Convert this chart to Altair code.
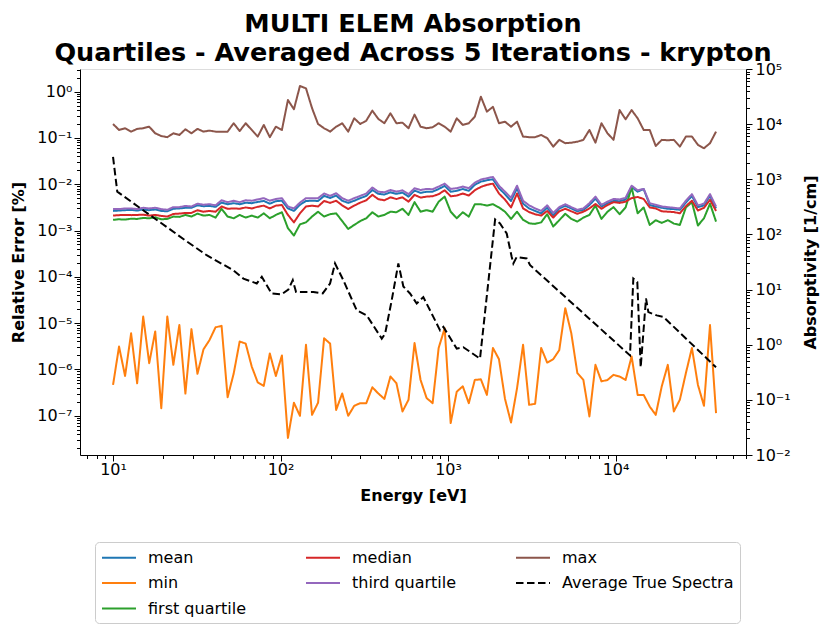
import altair as alt
import pandas as pd

# ---------------- data ----------------
energy = [10.0, 10.86, 11.80, 12.82, 13.93, 15.14, 16.44, 17.86, 19.41, 21.09,
          22.91, 24.89, 27.04, 29.38, 31.92, 34.67, 37.67, 40.93, 44.46, 48.31,
          52.48, 57.02, 61.94, 67.30, 73.11, 79.43, 86.30, 93.76, 101.9, 110.7,
          120.2, 130.6, 141.9, 154.2, 167.5, 182.0, 197.7, 214.8, 233.4, 253.5,
          275.4, 299.2, 325.1, 353.2, 383.7, 416.9, 452.9, 492.0, 534.6, 580.8,
          631.0, 685.5, 744.7, 809.1, 879.0, 955.0, 1037, 1127, 1225, 1330,
          1445, 1570, 1706, 1854, 2014, 2188, 2377, 2582, 2805, 3048,
          3311, 3597, 3908, 4246, 4613, 5012, 5445, 5916, 6427, 6982,
          7586, 8241, 8954, 9727, 10568, 11482, 12474, 13552, 14723, 15996,
          17378, 18880, 20512, 22284, 24210, 26303, 28576, 31046, 33729, 36644,
          39811]

mean_err = [2.65e-3, 2.7e-3, 2.75e-3, 2.8e-3, 2.7e-3, 2.85e-3, 2.75e-3, 2.85e-3, 2.65e-3, 2.6e-3,
            2.95e-3, 3.0e-3, 3.1e-3, 3.1e-3, 3.5e-3, 3.35e-3, 3.4e-3, 3.25e-3, 4.0e-3, 3.7e-3,
            3.9e-3, 3.7e-3, 4.0e-3, 3.9e-3, 4.15e-3, 4.35e-3, 3.8e-3, 4.3e-3, 4.4e-3, 3.0e-3,
            2.65e-3, 3.6e-3, 4.35e-3, 4.4e-3, 4.35e-3, 5.6e-3, 5.05e-3, 5.7e-3, 4.4e-3, 3.95e-3,
            4.4e-3, 5.0e-3, 5.6e-3, 7.5e-3, 6.2e-3, 6.0e-3, 6.7e-3, 6.2e-3, 6.6e-3, 5.4e-3,
            7.3e-3, 6.5e-3, 6.9e-3, 6.9e-3, 7.9e-3, 9.2e-3, 6.9e-3, 7.2e-3, 7.9e-3, 7.2e-3,
            9.7e-3, 1.14e-2, 1.22e-2, 1.28e-2, 8.2e-3, 6.1e-3, 4.35e-3, 8.2e-3, 3.8e-3, 3.0e-3,
            2.65e-3, 2.35e-3, 3.1e-3, 2.1e-3, 3.0e-3, 3.4e-3, 3.0e-3, 2.6e-3, 2.8e-3, 3.55e-3,
            4.9e-3, 3.3e-3, 3.9e-3, 4.35e-3, 4.3e-3, 4.65e-3, 8.75e-3, 6.9e-3, 7.9e-3, 3.55e-3,
            3.3e-3, 3.1e-3, 2.95e-3, 2.9e-3, 2.8e-3, 4.0e-3, 5.6e-3, 3.2e-3, 3.5e-3, 5.6e-3,
            3.0e-3]

min_err = [4.6e-7, 3.1e-6, 7.2e-7, 6.0e-6, 5.0e-7, 1.38e-5, 1.36e-6, 6.6e-6, 1.45e-7, 1.38e-5,
           1.25e-6, 9.1e-6, 3.0e-7, 7.4e-6, 8.0e-7, 2.7e-6, 4.3e-6, 8.1e-6, 8.7e-6, 2.5e-7,
           8.0e-7, 4.0e-6, 3.6e-6, 1.15e-6, 5.2e-7, 4.4e-7, 2.2e-6, 7.2e-7, 2.0e-6, 3.3e-8,
           1.9e-7, 9.9e-8, 3.4e-6, 1.04e-7, 1.9e-7, 4.7e-6, 3.6e-6, 1.33e-7, 3.0e-7, 9.9e-8,
           1.63e-7, 1.86e-7, 1.86e-7, 4.1e-7, 3.0e-7, 2.3e-7, 7.0e-7, 5.0e-7, 1.23e-7, 2.2e-7,
           3.7e-6, 5.9e-7, 2.4e-7, 1.86e-7, 2.9e-6, 7.7e-6, 6.9e-8, 3.3e-7, 4.3e-7, 1.86e-7,
           5.9e-7, 6.1e-7, 2.8e-7, 2.9e-6, 1.66e-6, 2.3e-7, 7.1e-8, 3.9e-7, 3.4e-6, 1.71e-7,
           1.8e-7, 2.9e-6, 1.4e-6, 1.66e-6, 2.6e-6, 2.1e-5, 6.0e-6, 8.3e-7, 5.9e-7, 9.6e-8,
           1.25e-6, 5.5e-7, 5.9e-7, 7.6e-7, 7.0e-7, 5.9e-7, 1.9e-6, 2.8e-7, 2.8e-7, 1.57e-7,
           1.04e-7, 4.3e-7, 1.25e-6, 1.23e-7, 2.2e-7, 8.3e-7, 2.9e-6, 4.6e-7, 1.63e-7, 9.1e-6,
           1.13e-7]

q1_err = [1.7e-3, 1.75e-3, 1.72e-3, 1.8e-3, 1.78e-3, 1.87e-3, 1.84e-3, 1.93e-3, 1.75e-3, 1.78e-3,
          2.0e-3, 1.97e-3, 2.17e-3, 2.0e-3, 2.32e-3, 2.1e-3, 2.17e-3, 1.9e-3, 2.95e-3, 2.0e-3,
          1.84e-3, 2.17e-3, 1.9e-3, 2.1e-3, 1.9e-3, 2.35e-3, 1.84e-3, 2.17e-3, 2.48e-3, 1.12e-3,
          7.8e-4, 1.36e-3, 1.5e-3, 2.0e-3, 2.55e-3, 2.0e-3, 2.25e-3, 2.35e-3, 1.6e-3, 1.08e-3,
          1.32e-3, 1.6e-3, 1.84e-3, 2.48e-3, 2.0e-3, 2.17e-3, 2.55e-3, 2.48e-3, 2.95e-3, 2.17e-3,
          4.1e-3, 2.55e-3, 2.75e-3, 2.55e-3, 4.2e-3, 5.4e-3, 2.55e-3, 1.84e-3, 2.48e-3, 2.0e-3,
          3.7e-3, 3.7e-3, 3.45e-3, 3.7e-3, 3.15e-3, 2.55e-3, 1.78e-3, 2.55e-3, 1.7e-3, 1.43e-3,
          1.39e-3, 1.5e-3, 2.25e-3, 1.22e-3, 1.67e-3, 2.3e-3, 1.78e-3, 1.56e-3, 1.9e-3, 2.17e-3,
          3.45e-3, 1.78e-3, 2.55e-3, 3.2e-3, 2.25e-3, 3.15e-3, 8.5e-3, 2.35e-3, 3.15e-3, 1.32e-3,
          1.67e-3, 1.46e-3, 1.67e-3, 1.41e-3, 1.32e-3, 3.15e-3, 4.1e-3, 1.28e-3, 1.84e-3, 3.8e-3,
          1.56e-3]

median_err = [2.1e-3, 2.15e-3, 2.17e-3, 2.15e-3, 2.17e-3, 2.2e-3, 2.1e-3, 2.17e-3, 2.07e-3, 2.0e-3,
              2.28e-3, 2.32e-3, 2.4e-3, 2.4e-3, 2.75e-3, 2.55e-3, 2.65e-3, 2.55e-3, 3.3e-3, 2.95e-3,
              3.0e-3, 2.95e-3, 3.15e-3, 3.0e-3, 3.25e-3, 3.45e-3, 3.0e-3, 3.45e-3, 3.55e-3, 2.17e-3,
              1.5e-3, 2.35e-3, 3.3e-3, 3.45e-3, 3.3e-3, 4.35e-3, 3.95e-3, 4.4e-3, 3.5e-3, 2.9e-3,
              3.45e-3, 4.0e-3, 4.5e-3, 5.9e-3, 4.75e-3, 4.5e-3, 5.2e-3, 4.8e-3, 5.2e-3, 4.2e-3,
              5.9e-3, 5.15e-3, 5.4e-3, 5.5e-3, 6.1e-3, 7.4e-3, 5.5e-3, 5.7e-3, 6.3e-3, 5.7e-3,
              7.4e-3, 8.75e-3, 9.7e-3, 1.03e-2, 6.3e-3, 4.65e-3, 3.15e-3, 6.3e-3, 3.0e-3, 2.5e-3,
              2.25e-3, 2.1e-3, 2.65e-3, 1.9e-3, 2.6e-3, 2.95e-3, 2.6e-3, 2.3e-3, 2.55e-3, 3.0e-3,
              3.75e-3, 2.95e-3, 3.55e-3, 4.1e-3, 3.95e-3, 4.2e-3, 5.0e-3, 5.3e-3, 4.8e-3, 3.15e-3,
              3.0e-3, 2.6e-3, 2.55e-3, 2.5e-3, 2.35e-3, 3.35e-3, 4.4e-3, 2.7e-3, 3.1e-3, 4.6e-3,
              2.65e-3]

q3_err = [2.9e-3, 2.9e-3, 3.0e-3, 3.0e-3, 2.9e-3, 3.1e-3, 3.0e-3, 3.1e-3, 2.9e-3, 2.8e-3,
          3.2e-3, 3.2e-3, 3.4e-3, 3.3e-3, 3.8e-3, 3.6e-3, 3.7e-3, 3.5e-3, 4.5e-3, 4.1e-3,
          4.4e-3, 4.1e-3, 4.5e-3, 4.4e-3, 4.7e-3, 5.0e-3, 4.4e-3, 4.8e-3, 5.0e-3, 3.3e-3,
          3.0e-3, 4.0e-3, 5.0e-3, 5.0e-3, 5.0e-3, 6.3e-3, 5.6e-3, 6.4e-3, 5.0e-3, 4.4e-3,
          5.0e-3, 5.6e-3, 6.3e-3, 8.5e-3, 6.9e-3, 6.7e-3, 7.5e-3, 6.9e-3, 7.4e-3, 6.1e-3,
          8.2e-3, 7.5e-3, 7.9e-3, 7.8e-3, 8.9e-3, 1.03e-2, 7.9e-3, 8.2e-3, 8.9e-3, 8.2e-3,
          1.08e-2, 1.26e-2, 1.35e-2, 1.44e-2, 9.3e-3, 6.9e-3, 5.1e-3, 9.3e-3, 4.4e-3, 3.5e-3,
          3.0e-3, 2.65e-3, 3.5e-3, 2.4e-3, 3.2e-3, 3.7e-3, 3.2e-3, 2.8e-3, 3.0e-3, 3.9e-3,
          5.4e-3, 3.6e-3, 4.2e-3, 4.8e-3, 4.7e-3, 5.1e-3, 9.3e-3, 7.4e-3, 7.9e-3, 3.9e-3,
          3.6e-3, 3.3e-3, 3.2e-3, 3.1e-3, 3.0e-3, 4.4e-3, 6.1e-3, 3.5e-3, 3.8e-3, 6.1e-3,
          3.3e-3]

max_err = [0.20, 0.149, 0.162, 0.137, 0.157, 0.162, 0.175, 0.126, 0.110, 0.104,
           0.126, 0.116, 0.154, 0.126, 0.157, 0.137, 0.144, 0.137, 0.137, 0.137,
           0.208, 0.141, 0.208, 0.149, 0.107, 0.191, 0.104, 0.175, 0.149, 0.66,
           0.417, 1.33, 1.18, 0.44, 0.20, 0.162, 0.137, 0.175, 0.208, 0.137,
           0.266, 0.20, 0.237, 0.389, 0.257, 0.208, 0.341, 0.208, 0.214, 0.162,
           0.32, 0.175, 0.162, 0.17, 0.208, 0.175, 0.137, 0.266, 0.191, 0.208,
           0.288, 0.78, 0.37, 0.47, 0.208, 0.225, 0.175, 0.225, 0.107, 0.104,
           0.104, 0.116, 0.099, 0.065, 0.091, 0.077, 0.079, 0.083, 0.091, 0.149,
           0.079, 0.208, 0.126, 0.091, 0.40, 0.253, 0.40, 0.266, 0.149, 0.149,
           0.067, 0.091, 0.089, 0.091, 0.065, 0.107, 0.107, 0.071, 0.06, 0.077,
           0.137]

spec_energy = [10.0, 10.6, 26.9, 36.2, 52.2, 60.0, 72.1, 77.3, 88.5, 101.6,
               111.3, 118.3, 123.8, 157.0, 178.6, 197.5, 211.5, 237.0, 285.0, 327.0,
               402.0, 421.0, 461.0, 505.0, 541.0, 593.0, 650.0, 712.0, 817.0, 896.0,
               938.0, 1127.0, 1234.0, 1552.0, 1910.0, 2043.0, 2240.0, 2400.0, 2455.0, 2570.0,
               2950.0, 3090.0, 12200.0, 12770.0, 13490.0, 14130.0, 15200.0, 15700.0, 17620.0, 19280.0,
               39800.0]
spec_vals = [2540, 596, 78.8, 42, 22.4, 15.8, 12.9, 17, 8.5, 8.2,
             10, 14.8, 9.0, 9.0, 8.5, 12.9, 29.7, 14.8, 4.2, 3.4,
             1.29, 1.58, 6.4, 29.7, 11.4, 8.5, 5.6, 7.3, 3.2, 1.82,
             2.1, 0.85, 0.90, 0.56, 187, 158, 104, 39, 29.7, 39,
             36.6, 27.7, 0.64, 15.8, 13.7, 0.39, 6.9, 3.9, 3.4, 3.2,
             0.39]

# tick positions
x_decades = [10, 100, 1000, 10000]
yl_decades = [1e-8, 1e-7, 1e-6, 1e-5, 1e-4, 1e-3, 1e-2, 1e-1, 1e0]
yr_decades = [1e-2, 1e-1, 1e0, 1e1, 1e2, 1e3, 1e4, 1e5]

x_domain = [6.35, 60100]
yl_domain = [1.41e-8, 3.09]
yr_domain = [1e-2, 1e5]

for arr in (mean_err, min_err, q1_err, median_err, q3_err, max_err):
    assert len(arr) == len(energy), len(arr)
assert len(spec_energy) == len(spec_vals)


def with_minor(decades, lo, hi):
    out = []
    for d in [decades[0] / 10] + decades:
        for m in range(1, 10):
            v = d * m
            if lo <= v <= hi:
                out.append(v)
    return out


x_ticks = with_minor(x_decades, *x_domain)
yl_ticks = with_minor(yl_decades, *yl_domain)
yr_ticks = with_minor(yr_decades, *yr_domain)

# ---------------- styling ----------------
FONT = "DejaVu Sans"
# legend is filled row by row: (mean, median, max) / (min, third quartile, spectra) / (first quartile)
legend_order = ["mean", "median", "max", "min", "third quartile",
                "Average True Spectra", "first quartile"]
palette = {"mean": "#1f77b4", "median": "#d62728", "max": "#8c564b", "min": "#ff7f0e",
           "third quartile": "#9467bd", "Average True Spectra": "#000000",
           "first quartile": "#2ca02c"}
dash = {n: [1, 0] for n in legend_order}
dash["Average True Spectra"] = [7.5, 3.5]

color_scale = alt.Scale(domain=legend_order, range=[palette[n] for n in legend_order])
dash_scale = alt.Scale(domain=legend_order, range=[dash[n] for n in legend_order])

decade_test = "abs(log(datum.value)/LN10 - round(log(datum.value)/LN10)) < 0.0001"
label_expr = (
    "(" + decade_test + ") ? ('10' + (round(log(datum.value)/LN10) < 0 ? '\u207b' : '') + "
    "['\u2070','\u00b9','\u00b2','\u00b3','\u2074','\u2075','\u2076','\u2077','\u2078','\u2079']"
    "[abs(round(log(datum.value)/LN10))]) : ''"
)
tick_size = {"condition": {"test": decade_test, "value": 6}, "value": 3.5}


def make_axis(title, values, orient, **kw):
    return alt.Axis(title=title, values=values, orient=orient, labelExpr=label_expr,
                    tickSize=tick_size, labelOverlap=False, labelFlush=False, grid=False,
                    labelFont=FONT, labelFontSize=16, labelColor="black",
                    titleFont=FONT, titleFontSize=16, titleFontWeight="bold", titleColor="black",
                    tickColor="black", domainColor="black", tickWidth=1, **kw)


x_axis = make_axis("Energy [eV]", x_ticks, "bottom", labelPadding=0, titlePadding=10)
yl_axis = make_axis("Relative Error [%]", yl_ticks, "left", labelPadding=2, titlePadding=10)
yr_axis = make_axis("Absorptivity [1/cm]", yr_ticks, "right", labelPadding=3, titlePadding=28,
                    titleAngle=270)

legend = alt.Legend(title=None, orient="none", legendX=15, legendY=473, columns=3,
                    direction="horizontal", values=legend_order,
                    symbolType="M-1,0H3", symbolSize=289, symbolStrokeWidth=2,
                    labelFont=FONT, labelFontSize=16, labelColor="black", labelOffset=28,
                    labelLimit=400, rowPadding=7.5, columnPadding=55, padding=6,
                    strokeColor="#cccccc", fillColor="white", cornerRadius=4)

x_enc = alt.X("energy:Q", scale=alt.Scale(type="log", domain=x_domain, nice=False), axis=x_axis)
color_enc = alt.Color("series:N", scale=color_scale, legend=legend, sort=legend_order)
dash_enc = alt.StrokeDash("series:N", scale=dash_scale, legend=legend, sort=legend_order)
yl_scale = alt.Scale(type="log", domain=yl_domain, nice=False)


def err_layer(name, vals, axis):
    df = pd.DataFrame({"energy": energy, "value": vals, "series": name})
    return alt.Chart(df).mark_line(strokeWidth=2, strokeJoin="round", clip=True).encode(
        x=x_enc,
        y=alt.Y("value:Q", scale=yl_scale, axis=axis),
        color=color_enc,
        strokeDash=dash_enc,
    )


errors = alt.layer(
    err_layer("mean", mean_err, yl_axis),
    err_layer("min", min_err, yl_axis),
    err_layer("first quartile", q1_err, yl_axis),
    err_layer("median", median_err, yl_axis),
    err_layer("third quartile", q3_err, yl_axis),
    err_layer("max", max_err, yl_axis),
)

spec_df = pd.DataFrame({"energy": spec_energy, "value": spec_vals, "series": "Average True Spectra"})
spectra = alt.Chart(spec_df).mark_line(strokeWidth=2, clip=True).encode(
    x=x_enc,
    y=alt.Y("value:Q", scale=alt.Scale(type="log", domain=yr_domain, nice=False), axis=yr_axis),
    color=color_enc,
    strokeDash=dash_enc,
)

chart = alt.layer(errors, spectra).resolve_scale(y="independent").properties(
    width=666,
    height=386,
    autosize=alt.AutoSizeParams(type="none"),
    padding={"left": 72, "top": 61, "right": 76, "bottom": 170},
    title=alt.TitleParams(
        text=["MULTI ELEM Absorption", "Quartiles - Averaged Across 5 Iterations - krypton"],
        font=FONT, fontSize=25.5, fontWeight="bold", color="black",
        anchor="middle", frame="group", offset=-5, lineHeight=29,
    ),
).configure_view(stroke="black", strokeWidth=1).configure(background="white")

chart.save("out.html", embed_options={"renderer": "svg", "actions": False})
